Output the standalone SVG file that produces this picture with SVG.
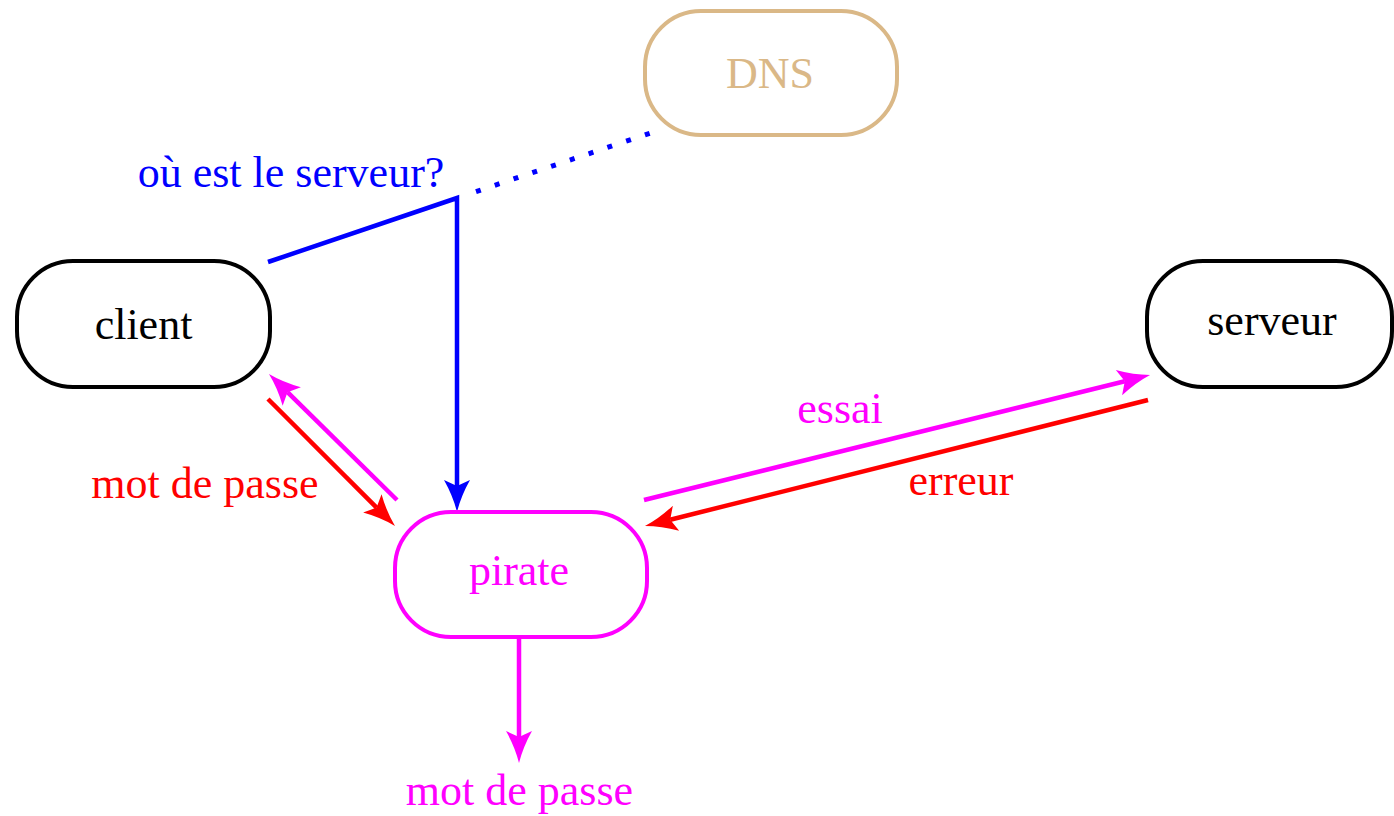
<svg xmlns="http://www.w3.org/2000/svg" width="1394" height="816" viewBox="0 0 1394 816">
<style>
.box{fill:none;stroke-width:4}
.t{font-family:"Liberation Serif","Times New Roman",serif;font-size:44px;text-anchor:middle}
.ln{fill:none;stroke-width:4.5;stroke-linecap:butt;stroke-linejoin:miter}
</style>
<defs>
<marker id="ab" markerUnits="userSpaceOnUse" orient="auto" refX="0" refY="0" markerWidth="40" markerHeight="40" overflow="visible"><path d="M26,0 Q10,-4 -6,-13 L0,0 L-6,13 Q10,4 26,0 Z" fill="#0000ff"/></marker>
<marker id="am" markerUnits="userSpaceOnUse" orient="auto" refX="0" refY="0" markerWidth="40" markerHeight="40" overflow="visible"><path d="M26,0 Q10,-4 -6,-13 L0,0 L-6,13 Q10,4 26,0 Z" fill="#ff00ff"/></marker>
<marker id="ar" markerUnits="userSpaceOnUse" orient="auto" refX="0" refY="0" markerWidth="40" markerHeight="40" overflow="visible"><path d="M26,0 Q10,-4 -6,-13 L0,0 L-6,13 Q10,4 26,0 Z" fill="#ff0000"/></marker>
</defs>
<rect width="1394" height="816" fill="#ffffff"/>
<g id="connectors">
<line x1="476" y1="191.6" x2="652" y2="132.5" stroke="#0000ff" stroke-width="5" stroke-dasharray="5 14.8"/>
<polyline class="ln" points="268,262 457,198 457,486" stroke="#0000ff" marker-end="url(#ab)"/>
<line class="ln" x1="397" y1="500" x2="287.5" y2="392.2" stroke="#ff00ff" marker-end="url(#am)"/>
<line class="ln" x1="268" y1="399" x2="376.6" y2="507.6" stroke="#ff0000" marker-end="url(#ar)"/>
<line class="ln" x1="644" y1="500" x2="1124.8" y2="381.2" stroke="#ff00ff" marker-end="url(#am)"/>
<line class="ln" x1="1148" y1="400" x2="670.2" y2="519.7" stroke="#ff0000" marker-end="url(#ar)"/>
<line class="ln" x1="519" y1="638" x2="519" y2="737" stroke="#ff00ff" marker-end="url(#am)"/>
<text class="t" x="291" y="187" fill="#0000ff">où est le serveur?</text>
<text class="t" x="205" y="498" fill="#ff0000">mot de passe</text>
<text class="t" x="840" y="423" fill="#ff00ff">essai</text>
<text class="t" x="961" y="495" fill="#ff0000">erreur</text>
<text class="t" x="519.5" y="805" fill="#ff00ff">mot de passe</text>
</g>
<g id="dns">
<rect class="box" x="645" y="11" width="252" height="124" rx="56" ry="56" stroke="#dab887"/>
<text class="t" x="770" y="88" fill="#dab887">DNS</text>
</g>
<g id="client">
<rect class="box" x="17" y="261" width="253" height="126" rx="56" ry="56" stroke="#000000"/>
<text class="t" x="143.5" y="339" fill="#000000">client</text>
</g>
<g id="serveur">
<rect class="box" x="1147" y="261" width="245" height="126" rx="56" ry="56" stroke="#000000"/>
<text class="t" x="1272" y="335" fill="#000000">serveur</text>
</g>
<g id="pirate">
<rect class="box" x="395" y="512" width="252" height="125" rx="56" ry="56" stroke="#ff00ff"/>
<text class="t" x="519" y="585" fill="#ff00ff">pirate</text>
</g>
</svg>
